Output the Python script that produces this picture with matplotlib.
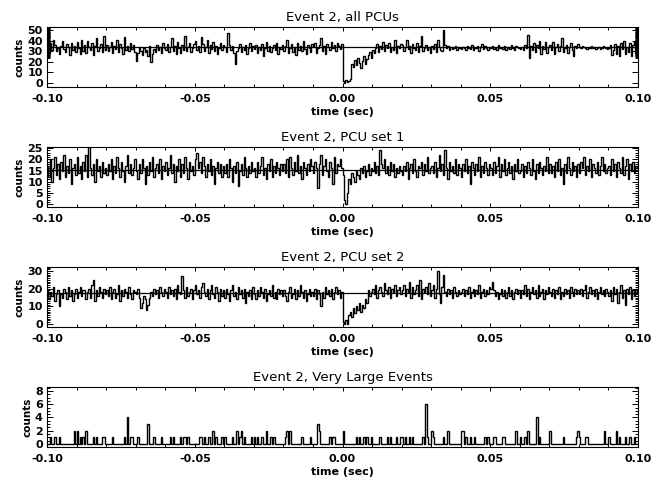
import numpy as np
import matplotlib
matplotlib.use('Agg')
import matplotlib.pyplot as plt
from matplotlib.ticker import MultipleLocator, FixedLocator

plt.rcParams['font.family'] = ['DejaVu Sans']
plt.rcParams['axes.unicode_minus'] = False

# light curves, 0.5 ms bins from -0.1 s to 0.1 s (one row = 10 ms)
t_start = -0.1
t_end = 0.1

counts_all = [
    45, 28, 38, 31, 41, 36, 30, 33, 27, 35, 40, 32, 29, 37, 34, 26, 38, 31, 35, 29,
    39, 33, 27, 41, 30, 36, 28, 40, 34, 31, 38, 26, 35, 42, 30, 33, 37, 29, 44, 31,
    36, 30, 34, 39, 28, 35, 32, 41, 29, 37, 33, 27, 43, 31, 35, 30, 38, 32, 36, 29,
    21, 28, 34, 30, 26, 33, 29, 31, 25, 35, 20, 27, 32, 29, 36, 31, 34, 28, 38, 33,
    31, 37, 29, 34, 42, 30, 35, 27, 39, 33, 28, 36, 31, 44, 30, 34, 38, 29, 33, 37,
    40, 31, 35, 29, 43, 37, 30, 34, 41, 28, 36, 32, 39, 30, 35, 27, 33, 38, 31, 36,
    34, 29, 47, 36, 31, 35, 28, 18, 30, 33, 37, 29, 34, 31, 36, 27, 33, 38, 30, 35,
    32, 36, 28, 34, 31, 37, 25, 33, 39, 30, 35, 29, 33, 36, 31, 38, 27, 34, 32, 36,
    30, 35, 41, 28, 33, 37, 29, 34, 26, 38, 31, 35, 30, 40, 32, 27, 36, 33, 29, 37,
    34, 38, 28, 33, 36, 42, 30, 35, 27, 37, 34, 31, 39, 33, 36, 30, 38, 35, 32, 37,
    2, 0, 3, 1, 2, 4, 18, 15, 22, 17, 24, 19, 14, 21, 25, 18, 23, 26, 29, 24,
    31, 28, 33, 37, 29, 35, 32, 39, 30, 36, 33, 38, 29, 34, 31, 41, 28, 35, 33, 37,
    36, 30, 34, 41, 32, 35, 28, 37, 33, 31, 38, 29, 35, 44, 30, 33, 36, 31, 34, 28,
    35, 32, 37, 29, 41, 34, 31, 30, 50, 36, 33, 35, 31, 34, 32, 33, 35, 31, 34, 33,
    32, 34, 33, 31, 35, 33, 32, 36, 31, 34, 33, 35, 30, 34, 37, 32, 35, 33, 31, 34,
    33, 35, 32, 34, 31, 36, 33, 34, 32, 35, 31, 33, 34, 32, 36, 33, 31, 35, 34, 33,
    32, 34, 31, 36, 33, 45, 24, 35, 31, 38, 29, 36, 33, 40, 27, 35, 32, 39, 28, 34,
    36, 31, 39, 27, 34, 37, 30, 35, 42, 29, 33, 36, 28, 34, 38, 31, 25, 35, 33, 37,
    34, 33, 35, 34, 33, 32, 34, 33, 35, 33, 34, 32, 33, 34, 32, 33, 35, 34, 33, 32,
    33, 36, 26, 31, 37, 27, 35, 25, 38, 32, 40, 27, 34, 29, 38, 25, 36, 40, 28, 36,
]

counts_set1 = [
    17, 12, 20, 10, 16, 21, 13, 18, 11, 19, 15, 22, 12, 17, 14, 20, 9, 16, 18, 13,
    21, 14, 17, 11, 19, 15, 22, 12, 26, 16, 13, 18, 10, 20, 15, 17, 12, 19, 14, 16,
    13, 18, 15, 20, 11, 17, 14, 21, 16, 12, 19, 15, 10, 17, 22, 14, 18, 13, 16, 20,
    15, 11, 18, 14, 20, 16, 9, 17, 13, 19, 15, 21, 12, 16, 18, 14, 20, 11, 17, 15,
    19, 13, 16, 22, 14, 18, 10, 17, 15, 20, 12, 18, 14, 21, 16, 11, 19, 15, 17, 13,
    20, 23, 16, 19, 14, 21, 17, 12, 18, 15, 20, 13, 17, 9, 16, 19, 14, 18, 12, 17,
    14, 18, 12, 20, 16, 10, 17, 14, 19, 8, 15, 18, 13, 21, 16, 12, 17, 14, 19, 15,
    16, 12, 19, 14, 17, 21, 13, 16, 11, 18, 15, 20, 12, 17, 14, 19, 16, 13, 18, 15,
    18, 14, 20, 12, 21, 16, 13, 19, 15, 22, 14, 17, 11, 19, 16, 13, 18, 15, 20, 17,
    14, 19, 16, 7, 18, 22, 13, 17, 20, 15, 12, 19, 16, 9, 21, 14, 18, 17, 20, 16,
    13, 2, 0, 5, 11, 9, 14, 12, 10, 15, 13, 11, 16, 14, 17, 12, 15, 18, 13, 16,
    15, 19, 14, 17, 13, 24, 18, 16, 20, 14, 17, 13, 19, 15, 18, 12, 16, 14, 17, 15,
    13, 17, 15, 19, 11, 16, 18, 14, 20, 15, 12, 17, 16, 19, 13, 18, 15, 21, 14, 16,
    17, 14, 19, 12, 16, 22, 15, 18, 13, 24, 16, 11, 19, 15, 17, 14, 20, 13, 18, 16,
    12, 18, 15, 20, 14, 17, 9, 19, 16, 13, 18, 15, 21, 12, 17, 14, 19, 16, 13, 18,
    16, 13, 19, 14, 17, 21, 12, 18, 15, 20, 13, 16, 19, 14, 17, 11, 18, 15, 20, 14,
    15, 18, 12, 17, 14, 19, 16, 13, 20, 15, 11, 18, 14, 19, 16, 13, 17, 15, 21, 14,
    18, 14, 17, 12, 19, 15, 20, 13, 16, 9, 18, 14, 21, 16, 13, 19, 15, 17, 12, 18,
    14, 19, 16, 21, 13, 17, 15, 20, 12, 18, 16, 14, 19, 13, 17, 21, 15, 18, 14, 16,
    17, 13, 20, 15, 18, 12, 19, 16, 14, 21, 13, 17, 20, 11, 18, 15, 19, 14, 17, 16,
]

counts_set2 = [
    20, 14, 18, 16, 21, 13, 17, 19, 10, 17, 15, 20, 18, 14, 21, 16, 19, 13, 17, 20,
    15, 18, 21, 16, 19, 19, 14, 18, 20, 15, 22, 25, 13, 19, 16, 21, 18, 15, 20, 17,
    19, 16, 21, 14, 18, 20, 15, 17, 22, 13, 19, 16, 20, 18, 15, 21, 17, 14, 19, 18,
    17, 20, 15, 9, 12, 16, 14, 8, 11, 15, 18, 16, 20, 17, 19, 15, 21, 18, 16, 20,
    18, 15, 21, 17, 19, 16, 20, 14, 22, 18, 17, 27, 19, 15, 21, 16, 18, 20, 14, 19,
    22, 17, 19, 15, 21, 23, 18, 16, 20, 14, 19, 22, 17, 15, 21, 18, 13, 20, 16, 19,
    15, 20, 17, 13, 19, 22, 16, 18, 14, 21, 17, 19, 15, 20, 12, 18, 16, 19, 14, 21,
    17, 14, 19, 16, 21, 18, 15, 20, 13, 17, 19, 16, 22, 15, 18, 14, 20, 17, 19, 16,
    19, 16, 13, 18, 21, 15, 17, 20, 14, 19, 16, 22, 18, 15, 19, 13, 17, 20, 16, 18,
    16, 20, 14, 19, 17, 10, 18, 15, 21, 17, 19, 16, 20, 14, 18, 21, 17, 19, 15, 18,
    1, 0, 2, 0, 5, 7, 4, 9, 6, 10, 8, 12, 7, 11, 9, 14, 12, 19, 16, 18,
    20, 17, 22, 15, 19, 21, 18, 16, 23, 19, 17, 21, 15, 20, 18, 22, 16, 19, 21, 17,
    19, 22, 16, 20, 18, 24, 15, 21, 17, 19, 22, 16, 25, 14, 20, 18, 21, 17, 23, 16,
    19, 22, 15, 20, 30, 17, 12, 21, 28, 18, 16, 20, 17, 19, 15, 21, 18, 16, 19, 17,
    18, 20, 16, 19, 17, 21, 15, 18, 20, 16, 19, 17, 22, 15, 18, 20, 16, 19, 17, 21,
    20, 24, 19, 16, 18, 14, 17, 20, 16, 19, 15, 18, 21, 16, 19, 14, 18, 20, 17, 19,
    15, 19, 17, 22, 16, 20, 14, 18, 21, 17, 19, 15, 22, 16, 18, 20, 14, 19, 17, 21,
    18, 16, 20, 15, 19, 17, 21, 14, 18, 16, 20, 17, 19, 15, 21, 18, 16, 20, 17, 19,
    17, 20, 16, 19, 22, 15, 18, 21, 17, 19, 16, 20, 14, 18, 21, 17, 19, 16, 20, 18,
    16, 19, 13, 21, 17, 20, 12, 18, 22, 15, 19, 11, 20, 17, 21, 14, 19, 16, 20, 18,
]

# average level drawn across each light curve
mean_all = 33.5
mean_set1 = 15.2
mean_set2 = 17.3

# very large events: bin times (s) and counts, 0.5 ms bins
vle_bin_width = 0.0005
vle_times = [
    -0.0990, -0.0973, -0.0960, -0.0909, -0.0900, -0.0890, -0.0877, -0.0868,
    -0.0841, -0.0834, -0.0815, -0.0809, -0.0776, -0.0736, -0.0729, -0.0719,
    -0.0711, -0.0691, -0.0656, -0.0640, -0.0614, -0.0584, -0.0573, -0.0547,
    -0.0539, -0.0531, -0.0522, -0.0485, -0.0477, -0.0469, -0.0454, -0.0439,
    -0.0426, -0.0406, -0.0398, -0.0375, -0.0360, -0.0349, -0.0341, -0.0332,
    -0.0307, -0.0300, -0.0290, -0.0273, -0.0257, -0.0245, -0.0232, -0.0195,
    -0.0187, -0.0180, -0.0138, -0.0110, -0.0082, -0.0076, -0.0042, -0.0035,
    -0.0028, 0.0001, 0.0046, 0.0057, 0.0070, 0.0080, 0.0099, 0.0125,
    0.0150, 0.0161, 0.0183, 0.0195, 0.0204, 0.0211, 0.0228, 0.0237,
    0.0271, 0.0280, 0.0287, 0.0302, 0.0307, 0.0341, 0.0358, 0.0400,
    0.0407, 0.0415, 0.0434, 0.0445, 0.0482, 0.0493, 0.0510, 0.0519,
    0.0541, 0.0546, 0.0589, 0.0603, 0.0618, 0.0629, 0.0659, 0.0668,
    0.0702, 0.0747, 0.0790, 0.0795, 0.0804, 0.0824, 0.0828, 0.0888,
    0.0900, 0.0928, 0.0939, 0.0959, 0.0973, 0.0986,
]
vle_counts = [
    1, 1, 1, 2, 2, 1, 1, 2,
    1, 1, 1, 1, 1, 1, 4, 1,
    1, 1, 3, 1, 1, 1, 1, 1,
    1, 1, 1, 1, 1, 1, 1, 2,
    1, 1, 1, 1, 2, 1, 2, 1,
    1, 1, 1, 1, 2, 1, 1, 1,
    2, 2, 1, 1, 3, 2, 1, 1,
    1, 2, 1, 1, 1, 1, 1, 1,
    1, 1, 1, 1, 1, 1, 1, 1,
    1, 6, 1, 2, 1, 1, 2, 2,
    2, 1, 1, 1, 1, 1, 1, 1,
    1, 1, 2, 1, 1, 2, 4, 1,
    2, 1, 1, 2, 1, 1, 1, 2,
    1, 2, 1, 1, 1, 1,
]

titles = ['Event 2, all PCUs', 'Event 2, PCU set 1', 'Event 2, PCU set 2',
          'Event 2, Very Large Events']


def bin_edges(n):
    return np.linspace(t_start, t_end, n + 1)


vle_edges = bin_edges(int(round((t_end - t_start) / vle_bin_width)))
vle_hist = np.zeros(len(vle_edges) - 1)
for t, c in zip(vle_times, vle_counts):
    idx = min(int((t - t_start) / vle_bin_width), len(vle_hist) - 1)
    vle_hist[idx] += c

fig = plt.figure(figsize=(6.67, 4.79), dpi=100)
left = 47 / 667
width = (638 - 47) / 667
height = 60 / 479
bottoms = [1 - 87 / 479, 1 - 207 / 479, 1 - 327 / 479, 1 - 447 / 479]

panels = [
    (bin_edges(len(counts_all)), counts_all, mean_all, (-3.8, 52.8), 10, np.arange(24, 53, 0.5)),
    (bin_edges(len(counts_set1)), counts_set1, mean_set1, (-1.3, 25.5), 5, np.arange(0, 26, 1.0)),
    (bin_edges(len(counts_set2)), counts_set2, mean_set2, (-1.7, 32.3), 10, np.arange(0, 32.5, 1.0)),
    (vle_edges, vle_hist, None, (-0.45, 8.6), 2, np.arange(0, 8.6, 0.5)),
]

for i, (e, y, mean, ylim, major, minor) in enumerate(panels):
    ax = fig.add_axes([left, bottoms[i], width, height])
    ax.stairs(y, e, color='black', linewidth=1.0, baseline=None if mean is not None else 0)
    if mean is not None:
        ax.axhline(mean, color='black', linewidth=0.9)
    ax.set_xlim(t_start, t_end)
    ax.set_ylim(*ylim)
    ax.xaxis.set_major_locator(FixedLocator([-0.1, -0.05, 0.0, 0.05, 0.1]))
    ax.xaxis.set_minor_locator(MultipleLocator(0.01))
    ax.yaxis.set_major_locator(MultipleLocator(major))
    ax.yaxis.set_minor_locator(FixedLocator(minor))
    ax.set_xticklabels(['-0.10', '-0.05', '0.00', '0.05', '0.10'])
    ax.tick_params(which='both', direction='in', top=True, right=True,
                   labelsize=8, width=0.7)
    ax.tick_params(axis='y', which='major', length=4.5, pad=3)
    ax.tick_params(axis='y', which='minor', length=2.5)
    ax.tick_params(axis='x', which='major', length=3, pad=5)
    ax.tick_params(axis='x', which='minor', length=2.5)
    for lbl in ax.get_xticklabels() + ax.get_yticklabels():
        lbl.set_fontweight('bold')
    for s in ax.spines.values():
        s.set_linewidth(0.8)
    ax.set_title(titles[i], fontsize=9.5, pad=4)
    ax.set_xlabel('time (sec)', fontsize=8, fontweight='bold', labelpad=2)
    ax.set_ylabel('counts', fontsize=7.5, fontweight='bold', labelpad=2)

plt.savefig('out.png', dpi=100)
